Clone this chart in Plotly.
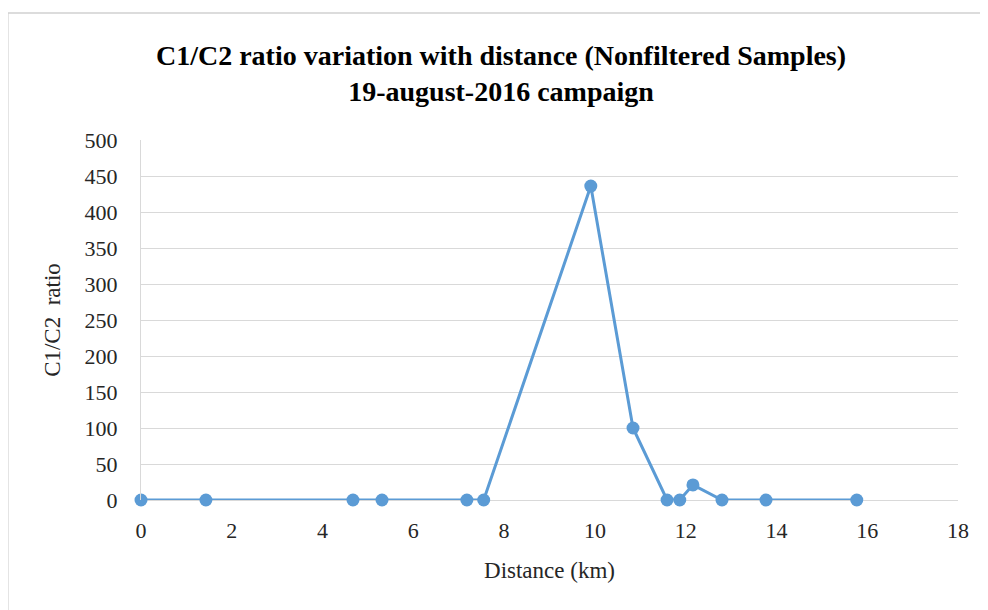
import plotly.graph_objects as go

# distance along the transect (km) and C1/C2 ratio
distance_km = [0, 1.43, 4.67, 5.31, 7.18, 7.55, 9.91, 10.84, 11.59, 11.87, 12.16, 12.8, 13.77, 15.77]
c1_c2_ratio = [0, 0, 0, 0, 0, 0, 436, 100, 0, 0, 21, 0, 0, 0]

x_ticks = [0, 2, 4, 6, 8, 10, 12, 14, 16, 18]
y_ticks = [0, 50, 100, 150, 200, 250, 300, 350, 400, 450, 500]

BLUE = "#5b9bd5"
GRID = "#d9d9d9"
FONT = "Liberation Serif"

fig = go.Figure(go.Scatter(
    x=distance_km,
    y=c1_c2_ratio,
    mode="lines+markers",
    line=dict(color=BLUE, width=3),
    marker=dict(color=BLUE, size=13),
    cliponaxis=False,
    showlegend=False,
))

# the page body keeps its default 8px margin, so margins are offset by that
fig.update_layout(
    width=988,
    height=610,
    margin=dict(l=133, r=38, t=132, b=118),
    paper_bgcolor="white",
    plot_bgcolor="white",
    font=dict(family=FONT, color="#262626"),
    title=dict(
        text="<b>C1/C2 ratio variation with distance (Nonfiltered Samples)</b><br><b>19-august-2016 campaign</b>",
        font=dict(family=FONT, size=28, color="black"),
        x=0.499, xanchor="center",
        y=0.907, yanchor="middle",
    ),
    shapes=[
        # thin chart-area frame, only left and top edges are visible
        dict(type="line", xref="paper", yref="paper", x0=-0.163, x1=1.2, y0=1.353, y1=1.353,
             line=dict(color="#d0d0d0", width=1.5)),
        dict(type="line", xref="paper", yref="paper", x0=-0.163, x1=-0.163, y0=-0.5, y1=1.353,
             line=dict(color="#d0d0d0", width=1.5)),
    ],
)

fig.update_xaxes(
    range=[0, 18],
    tickvals=x_ticks,
    showgrid=False,
    zeroline=False,
    showline=False,
    ticks="",
    ticklabelstandoff=15,
    tickfont=dict(size=22, color="#262626"),
    title=dict(text="Distance (km)", font=dict(size=23, color="#262626"), standoff=19),
)

fig.update_yaxes(
    range=[0, 500],
    tickvals=y_ticks,
    showgrid=True,
    gridcolor=GRID,
    gridwidth=1,
    zeroline=True,
    zerolinecolor=GRID,
    zerolinewidth=1,
    showline=True,
    linecolor=GRID,
    ticks="",
    ticklabelstandoff=18,
    tickfont=dict(size=22, color="#262626"),
    title=dict(text="C1/C2  ratio", font=dict(size=23, color="#262626"), standoff=17),
)

fig.write_html("out.html")
